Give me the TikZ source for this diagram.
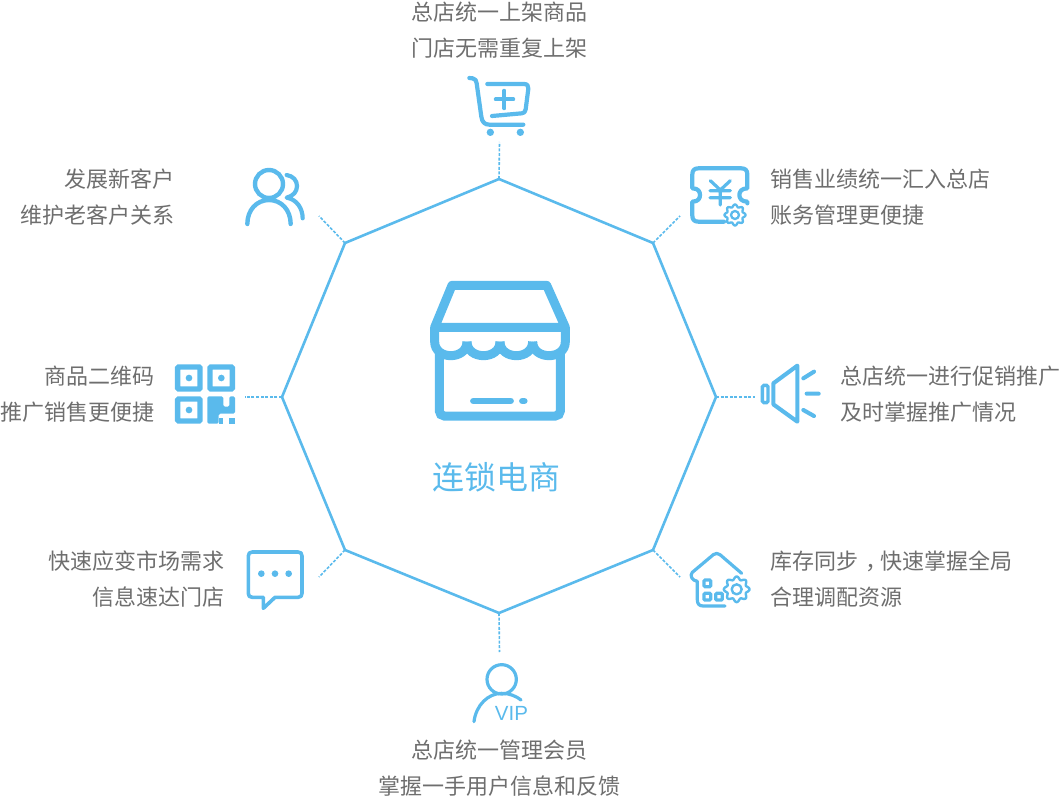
\documentclass[tikz,border=0pt]{standalone}
\usepackage{fontspec}
\setmainfont{Noto Sans CJK SC}
\newfontfamily\latinfont{Liberation Sans}
\definecolor{skyb}{HTML}{5ABAEC}
\definecolor{txtg}{HTML}{6E6E6E}
\tikzset{
  zm/.style 2 args={shift={(#1,#2)},x=.33333pt,y=-.33333pt},
  ln/.style={draw=skyb,line width=#1,line cap=round,line join=round},
  ln/.default=3pt,
  conn/.style={draw=skyb,line width=1.6pt,dash pattern=on 3pt off 1.6pt},
  caption/.style={text=txtg,font=\fontsize{22}{36}\selectfont,inner sep=0pt},
}
\newcommand{\gearshape}[5]{%
  \draw[ln=#5,smooth,samples=121,domain=0:360] plot ({#1+(#3+.13*#3*cos(8*\x))*cos(\x)},{#2+(#3+.13*#3*cos(8*\x))*sin(\x)}) -- cycle;
  \draw[ln=#5] (#1,#2) circle[radius=#4];
}
\begin{document}
\begin{tikzpicture}[x=1pt,y=-1pt]
\useasboundingbox (0,0) rectangle (1060,797);
% octagon
\coordinate (vt) at (499,179);
\coordinate (vtr) at (653,243);
\coordinate (vr) at (716,397);
\coordinate (vbr) at (653,550);
\coordinate (vb) at (499,613);
\coordinate (vbl) at (345,550);
\coordinate (vl) at (282,397);
\coordinate (vtl) at (345,243);
\draw[draw=skyb,line width=2.6pt,line join=miter] (vt)--(vtr)--(vr)--(vbr)--(vb)--(vbl)--(vl)--(vtl)--cycle;
% connector ends
\coordinate (et) at (499.5,142);
\coordinate (etr) at (680,216);
\coordinate (er) at (755,397);
\coordinate (ebr) at (680,577);
\coordinate (eb) at (499.5,652);
\coordinate (ebl) at (319,577);
\coordinate (el) at (245,397);
\coordinate (etl) at (319,216);
\foreach \a/\b in {vt/et,vtr/etr,vr/er,vbr/ebr,vb/eb,vbl/ebl,vl/el,vtl/etl}
  \draw[conn] (\a) -- (\b);
% captions
\node[caption,align=center] (ct) at (499,30) {总店统一上架商品\\门店无需重复上架};
\node[caption,align=left,anchor=west] (ctr) at (770,197) {销售业绩统一汇入总店\\账务管理更便捷};
\node[caption,align=left,anchor=west] (cr) at (840,394) {总店统一进行促销推广\\及时掌握推广情况};
\node[caption,align=left,anchor=west] (cbr) at (770,579) {库存同步\hspace{7pt}，\hspace{-7pt}快速掌握全局\\合理调配资源};
\node[caption,align=center] (cb) at (499,768) {总店统一管理会员\\掌握一手用户信息和反馈};
\node[caption,align=right,anchor=east] (cbl) at (224.6,579) {快速应变市场需求\\信息速达门店};
\node[caption,align=right,anchor=east] (cl) at (154.6,394) {商品二维码\\推广销售更便捷};
\node[caption,align=right,anchor=east] (ctl) at (174.6,197) {发展新客户\\维护老客户关系};
\node[text=skyb,font=\fontsize{32}{36}\selectfont,inner sep=0pt] (title) at (496,477) {连锁电商};
% store
\begin{scope}[zm={420}{270}]
\draw[draw=skyb,line width=9pt,line join=round] (96,46)--(380,46)--(436,172)--(44,172)--cycle;
\draw[draw=skyb,line width=9pt] (44,172)--(44,215) .. controls (44,271) and (141,271) .. (141,215);
\draw[draw=skyb,line width=9pt] (141,215) .. controls (141,271) and (240,271) .. (240,215);
\draw[draw=skyb,line width=9pt] (240,215) .. controls (240,271) and (338,271) .. (338,215);
\draw[draw=skyb,line width=9pt] (338,215) .. controls (338,271) and (436,271) .. (436,215) -- (436,172);
\draw[draw=skyb,line width=9pt,rounded corners=5pt] (58,250)--(58,438)--(421,438)--(421,250);
\draw[ln=6.5pt] (160,393)--(272,393);
\draw[ln=6.5pt] (307,393)--(313,393);
\end{scope}
% cart
\begin{scope}[zm={460}{70}]
\draw[ln=4.2pt] (28,24)--(38,25) .. controls (46,26) and (49,32) .. (50,40)--(64,140) .. controls (66,156) and (74,164) .. (88,164)--(190,164);
\draw[ln=4.2pt] (82,42)--(192,42) .. controls (202,42) and (206,48) .. (205,56)--(197,118) .. controls (196,127) and (192,129) .. (185,130)--(96,138);
\draw[ln=3.8pt] (107,88)--(160,88) (133,62)--(133,115);
\fill[skyb] (91,187) circle[radius=11] (181,187) circle[radius=11];
\end{scope}
% ticket
\begin{scope}[zm={650}{160}]
\draw[ln=4.2pt] (222,185)--(145,185) .. controls (133,185) and (127,179) .. (127,167)--(127,125)
  .. controls (145,125) and (150,115) .. (150,105) .. controls (150,95) and (145,85) .. (127,85)
  --(127,43) .. controls (127,31) and (133,25) .. (145,25)--(274,25) .. controls (286,25) and (292,31) .. (292,43)--(292,85)
  .. controls (275,85) and (268,95) .. (268,105) .. controls (268,115) and (275,125) .. (292,125)--(292,130);
\draw[ln=3.2pt] (181,62)--(211,90)--(241,62) (180,92)--(241,92) (180,113)--(241,113) (211,90)--(211,135);
\gearshape{255}{165}{28}{12}{2.3pt}
\end{scope}
% people
\begin{scope}[zm={240}{160}]
\draw[ln=4.4pt] (87,72) circle[radius=42];
\draw[ln=4.4pt] (22,192) .. controls (22,150) and (50,120) .. (87,120) .. controls (124,120) and (152,150) .. (152,192);
\draw[ln=4.2pt] (140,45) .. controls (160,48) and (171,62) .. (171,78) .. controls (171,95) and (160,108) .. (140,113) .. controls (170,118) and (188,145) .. (188,175);
\end{scope}
% qr
\begin{scope}[zm={170}{355}]
\foreach \px/\py in {15/28,112/28,15/124}{
  \draw[draw=skyb,line width=5.4pt,rounded corners=1pt] (\px+8,\py+8) rectangle (\px+75,\py+74);
  \fill[skyb] (\px+42,\py+41) circle[radius=10];
}
\fill[skyb,rounded corners=1.5pt] (112,124)--(160,124)--(160,155)--(178,155)--(178,124)--(195,124)--(195,176)--(146,176)--(146,206)--(112,206)--cycle;
\fill[skyb] (146,190) rectangle (160,206);
\fill[skyb] (178,190) rectangle (195,206);
\end{scope}
% speaker
\begin{scope}[zm={710}{355}]
\draw[draw=skyb,line width=3.4pt,rounded corners=1.5pt] (157,91) rectangle (174,143);
\draw[ln=4.1pt] (190,85)--(262,32)--(262,200)--(190,148)--cycle;
\draw[ln=4.1pt] (280,70)--(312,50) (290,116)--(326,116) (280,165)--(312,183);
\end{scope}
% chat
\begin{scope}[zm={240}{540}]
\draw[ln=3.6pt] (37,36)--(174,36) .. controls (182,36) and (186,40) .. (186,48)--(186,160) .. controls (186,168) and (182,172) .. (174,172)--(105,172)--(70,205)--(70,172)--(37,172) .. controls (29,172) and (25,168) .. (25,160)--(25,48) .. controls (25,40) and (29,36) .. (37,36)--cycle;
\fill[skyb] (64,101) circle[radius=10] (105,101) circle[radius=10] (146,101) circle[radius=10];
\end{scope}
% house
\begin{scope}[zm={650}{540}]
\draw[ln=3.2pt] (275,100)--(210,44) .. controls (203,39) and (197,39) .. (190,44)--(127,97) .. controls (118,106) and (126,122) .. (142,124)--(142,180) .. controls (142,192) and (148,198) .. (160,198)--(225,198);
\foreach \sx/\sy in {172/130,172/170,207/170}
  \draw[draw=skyb,line width=3.2pt,rounded corners=1pt] (\sx-10,\sy-10) rectangle (\sx+10,\sy+10);
\gearshape{260}{148}{34}{15}{2.4pt}
\end{scope}
% vip
\begin{scope}[zm={460}{610}]
\draw[ln=3.2pt] (125,208) circle[radius=44];
\draw[ln=3.2pt] (42,335) .. controls (48,285) and (85,250) .. (125,250) .. controls (148,250) and (168,258) .. (183,270);
\end{scope}
\node[text=skyb,font=\latinfont\fontsize{20.5}{24}\selectfont,inner sep=0pt] (viptext) at (511.5,713) {VIP};
\end{tikzpicture}
\end{document}
